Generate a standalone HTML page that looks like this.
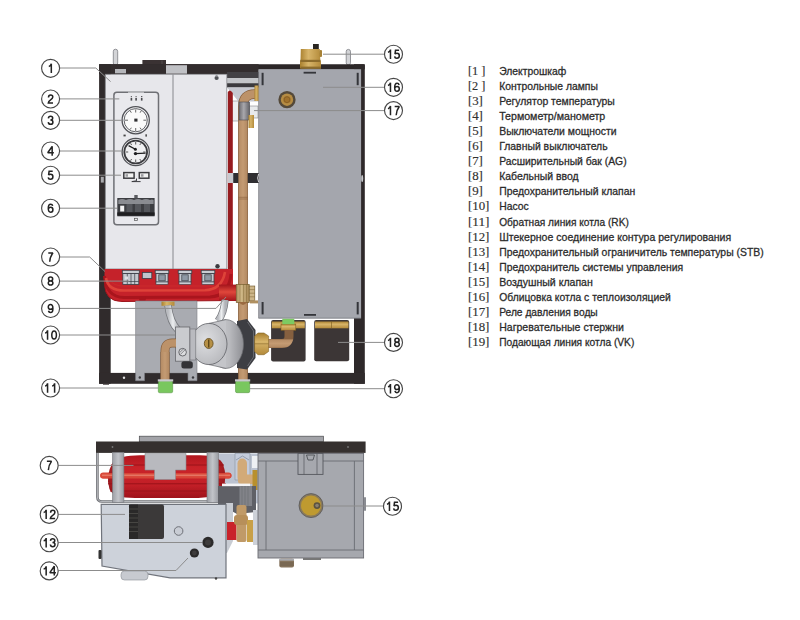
<!DOCTYPE html>
<html><head><meta charset="utf-8">
<style>
html,body{margin:0;padding:0;background:#fff;}
body{width:800px;height:620px;overflow:hidden;}
svg{display:block;}
.t{font-family:"Liberation Sans",sans-serif;font-size:11.4px;fill:#2b2b2b;stroke:#2b2b2b;stroke-width:0.3;}
.b{font-family:"Liberation Serif",serif;font-size:12.8px;fill:#303030;stroke:#303030;stroke-width:0.15;}
.n{font-family:"Liberation Sans",sans-serif;font-size:12.4px;fill:#262626;stroke:#262626;stroke-width:0.4;text-anchor:middle;}
.c{fill:#fff;stroke:#474747;stroke-width:1.15;}
.ld{fill:none;stroke:#8c8c8c;stroke-width:1;}
.dg{fill:none;stroke:#222;stroke-width:1.45;stroke-miterlimit:2;}
</style></head>
<body>
<svg width="800" height="620" viewBox="0 0 800 620">
<rect width="800" height="620" fill="#fff"/>

<!-- ================= FRONT VIEW ================= -->
<defs>
  <linearGradient id="cu" gradientUnits="userSpaceOnUse" x1="238.2" x2="247.8" y1="0" y2="0">
    <stop offset="0" stop-color="#86603f"/><stop offset="0.09" stop-color="#b68d66"/><stop offset="0.5" stop-color="#c49b73"/><stop offset="0.91" stop-color="#b38a63"/><stop offset="1" stop-color="#86603f"/>
  </linearGradient>
  <linearGradient id="cu11" gradientUnits="userSpaceOnUse" x1="160.5" x2="169.5" y1="0" y2="0">
    <stop offset="0" stop-color="#86603f"/><stop offset="0.09" stop-color="#b68d66"/><stop offset="0.5" stop-color="#c49b73"/><stop offset="0.91" stop-color="#b38a63"/><stop offset="1" stop-color="#86603f"/>
  </linearGradient>
  <linearGradient id="cuh" gradientUnits="userSpaceOnUse" x1="0" x2="0" y1="339" y2="348">
    <stop offset="0" stop-color="#86603f"/><stop offset="0.09" stop-color="#b68d66"/><stop offset="0.5" stop-color="#c49b73"/><stop offset="0.91" stop-color="#b38a63"/><stop offset="1" stop-color="#86603f"/>
  </linearGradient>
  <linearGradient id="brass" x1="0" x2="1" y1="0" y2="0">
    <stop offset="0" stop-color="#a9802e"/><stop offset="0.4" stop-color="#d8b56a"/><stop offset="1" stop-color="#b38a3a"/>
  </linearGradient>
  <linearGradient id="brassv" x1="0" x2="0" y1="0" y2="1">
    <stop offset="0" stop-color="#a9802e"/><stop offset="0.4" stop-color="#d8b56a"/><stop offset="1" stop-color="#b38a3a"/>
  </linearGradient>
  <linearGradient id="redstub" x1="0" x2="0" y1="0" y2="1">
    <stop offset="0" stop-color="#a3141b"/><stop offset="0.45" stop-color="#e0473b"/><stop offset="1" stop-color="#a3141b"/>
  </linearGradient>
  <linearGradient id="brass2" x1="0" x2="1" y1="0" y2="0">
    <stop offset="0" stop-color="#a98a58"/><stop offset="0.35" stop-color="#d2bb8a"/><stop offset="1" stop-color="#a88a5a"/>
  </linearGradient>
  <linearGradient id="pumpc" x1="0" x2="1" y1="0" y2="0">
    <stop offset="0" stop-color="#d6d7da"/><stop offset="0.6" stop-color="#b9babe"/><stop offset="1" stop-color="#8e8f94"/>
  </linearGradient>
  <radialGradient id="pumpf" cx="0.4" cy="0.4" r="0.7">
    <stop offset="0" stop-color="#dedfe2"/><stop offset="1" stop-color="#b6b7bb"/>
  </radialGradient>
  <linearGradient id="ring17" x1="0" x2="1" y1="0" y2="0">
    <stop offset="0" stop-color="#6c6b70"/><stop offset="0.45" stop-color="#a9a8ad"/><stop offset="1" stop-color="#626166"/>
  </linearGradient>
  <linearGradient id="hose" x1="0" x2="1" y1="0" y2="0">
    <stop offset="0" stop-color="#b9bbc0"/><stop offset="0.5" stop-color="#eceef0"/><stop offset="1" stop-color="#b0b2b7"/>
  </linearGradient>
</defs>
<g id="front">
  <!-- top pipes -->
  <rect x="113.3" y="49.2" width="4.4" height="16" rx="2.2" fill="#d3d4d7" stroke="#6f7075" stroke-width="0.7"/>
  <rect x="346.2" y="49.4" width="4.3" height="15.5" rx="2.1" fill="#d3d4d7" stroke="#6f7075" stroke-width="0.7"/>
  <!-- dark block on top -->
  <rect x="142.4" y="60" width="23.6" height="6" fill="#3a3233"/>
  <rect x="161.6" y="60.5" width="0.8" height="13" fill="#5a5455"/>
  <!-- frame -->
  <rect x="99.1" y="64.2" width="265.7" height="5.5" rx="1.5" fill="#2c2728"/>
  <rect x="99.1" y="64.2" width="159.5" height="9.9" fill="#332d2e"/>
  <rect x="99.1" y="64.2" width="11.6" height="319.6" fill="#302b2c"/>
  <rect x="354" y="64.2" width="10.8" height="319.6" fill="#2e292a"/>
  <rect x="99.1" y="372.9" width="265.7" height="10.9" fill="#302b2c"/>
  <rect x="103" y="383" width="6" height="1.7" fill="#3a3435"/>
  <rect x="100.8" y="176.8" width="3" height="5.8" fill="#a9a9ac"/>
  <rect x="115" y="69" width="11" height="4.3" fill="#b5b6ba"/>
  <rect x="166" y="65.2" width="21" height="8.5" fill="#c0c1c5"/>

  <!-- gap area between cabinet & tank -->
  <rect x="227" y="72" width="32" height="6" fill="#434145"/>
  <rect x="227" y="78" width="32" height="5.2" fill="#c3c5c9"/>
  <rect x="227" y="83.2" width="32" height="4.3" fill="#3b3a3e"/>
  <path d="M227 87.5 L258.6 87.5 L258.6 101.5 L238.5 101.5 Z" fill="#c6c8d0"/>
  <!-- little fittings between red strip and pipe -->
  <rect x="232" y="101" width="7" height="20" fill="#eceef0" stroke="#6f7076" stroke-width="0.5"/>
  <rect x="249" y="106" width="9" height="12" fill="#e8eaec" stroke="#6f7076" stroke-width="0.5"/>

  <!-- red strip right of cabinet -->
  <path d="M227.8 272 L227.8 92 Q230 88.5 232.8 93 L232.8 272 Z" fill="#961b1f"/>

  <!-- cabinet -->
  <rect x="105.3" y="74.3" width="121.5" height="194.7" fill="#e7e7eb" stroke="#85868b" stroke-width="0.8"/>
  <line x1="173" y1="74.3" x2="173" y2="269" stroke="#87888d" stroke-width="1"/>
  <circle cx="216.6" cy="78" r="2.1" fill="#505257"/>
  <rect x="215.6" y="74.3" width="2" height="2.2" fill="#9a9ba0"/>
  <circle cx="217.5" cy="266.2" r="2.2" fill="#3c3c40"/>

  <!-- control panel -->
  <rect x="113.9" y="92.2" width="44.6" height="132.6" rx="3" fill="#e9e9ed" stroke="#6f7075" stroke-width="1.5"/>
  <rect x="128" y="91.6" width="16" height="1.3" fill="#bfc0c4"/>
  <!-- lamps -->
  <g fill="#4a4a4e">
    <rect x="130.6" y="98" width="1.6" height="2.6"/><rect x="135.3" y="98" width="1.6" height="2.6"/><rect x="140.9" y="98" width="1.6" height="2.6"/>
    <rect x="130.8" y="96.2" width="1.2" height="1"/><rect x="135.5" y="96.2" width="1.2" height="1"/><rect x="141.1" y="96" width="1.2" height="1.2"/>
  </g>
  <!-- gauge 3 -->
  <circle cx="135.7" cy="120.2" r="13.6" fill="#f4f4f6" stroke="#505156" stroke-width="1.3"/>
  <circle cx="135.7" cy="120.2" r="11.6" fill="#fafafa" stroke="#606166" stroke-width="1"/>
  <g stroke="#555" stroke-width="0.9">
    <line x1="135.7" y1="109.5" x2="135.7" y2="112.5"/><line x1="135.7" y1="128" x2="135.7" y2="131"/>
    <line x1="125" y1="120.2" x2="128" y2="120.2"/><line x1="143.4" y1="120.2" x2="146.4" y2="120.2"/>
    <line x1="130.3" y1="111" x2="131.3" y2="112.7"/><line x1="141.1" y1="111" x2="140.1" y2="112.7"/>
    <line x1="130.3" y1="129.4" x2="131.3" y2="127.7"/><line x1="141.1" y1="129.4" x2="140.1" y2="127.7"/>
  </g>
  <rect x="134.3" y="118.6" width="3.2" height="3" fill="#2e2e30"/>
  <!-- gauge 4 -->
  <circle cx="135.7" cy="152" r="13.6" fill="#f4f4f6" stroke="#505156" stroke-width="1.3"/>
  <circle cx="135.7" cy="152" r="11.4" fill="#f0f0f2" stroke="#3a3a3e" stroke-width="1.8"/>
  <g stroke="#444" stroke-width="0.9">
    <line x1="135.7" y1="142" x2="135.7" y2="144.5"/><line x1="135.7" y1="159.5" x2="135.7" y2="162"/>
    <line x1="125.8" y1="152" x2="128.2" y2="152"/><line x1="143.2" y1="152" x2="145.6" y2="152"/>
    <line x1="130.6" y1="143.3" x2="131.6" y2="145"/><line x1="140.8" y1="143.3" x2="139.8" y2="145"/>
    <line x1="130.6" y1="160.7" x2="131.6" y2="159"/><line x1="140.8" y1="160.7" x2="139.8" y2="159"/>
  </g>
  <path d="M135.4 149.2 L128.6 145.6 M135.5 153.6 L145.6 153.1" stroke="#1e1e20" stroke-width="1.3"/>
  <circle cx="135.4" cy="149.2" r="1.5" fill="#1e1e20"/>
  <circle cx="135.5" cy="153.6" r="1.7" fill="#1e1e20"/>
  <rect x="123.5" y="134.6" width="2.2" height="1.8" fill="#444"/>
  <rect x="145.4" y="134.3" width="1.5" height="2.3" fill="#444"/>
  <!-- switches 5 -->
  <rect x="123.8" y="172.6" width="10.3" height="5.6" fill="#f2f2f2" stroke="#3c3c40" stroke-width="1.5"/>
  <rect x="139.3" y="172.6" width="9.6" height="5.6" fill="#f2f2f2" stroke="#3c3c40" stroke-width="1.5"/>
  <rect x="125.5" y="174.2" width="2.5" height="2.5" fill="#9a9a9e"/>
  <rect x="141" y="174.2" width="2.5" height="2.5" fill="#9a9a9e"/>
  <path d="M136.5 178.5 L136.5 180.8 L131.8 181.6 L140.6 181.6" stroke="#3c3c40" stroke-width="1" fill="none"/>
  <!-- breaker 6 -->
  <rect x="117.3" y="198" width="37.3" height="18.3" fill="#3d3e42"/>
  <path d="M118.3 204 L118.3 200 Q122 197.8 126 200 Q130 197.8 134 200 Q138 197.8 142 200 Q146 197.8 150 200 Q152 198.8 153.6 200 L153.6 204 Z" fill="#8a8c91"/>
  <g fill="#55575c"><rect x="126.5" y="204" width="6" height="8"/><rect x="135" y="204" width="6" height="8"/><rect x="144" y="204" width="6" height="8"/></g>
  <rect x="120.2" y="205.7" width="4" height="5.8" fill="#f3f3f3"/>
  <rect x="117.3" y="212.4" width="37.3" height="3.2" fill="#1f1f21"/>
  <rect x="134.3" y="195" width="3.4" height="3.4" fill="#5a5b60"/>
  <rect x="134.4" y="218.3" width="3.2" height="2.3" fill="none" stroke="#555" stroke-width="0.7"/>

  <!-- red header -->
  <path d="M104.5 269 L233 269 L233 300.5 L122 301.5 Q105 301.5 104.5 284 Z" fill="#c5222a"/>
  <path d="M104.5 276 Q106 297 124 297.5 L210 297 Q229 296 231 274" stroke="#a9151d" stroke-width="3" fill="none"/>
  <path d="M106 278 Q108 290.5 124 290.5 L205 290.3 Q222 289.5 225 272" stroke="#de4339" stroke-width="2.6" fill="none"/>
  <path d="M110 280 Q113 286 124 286 L214 286" stroke="#cc2a2c" stroke-width="1" fill="none"/>
  <path d="M104.5 284 Q105 301.5 122 301.5 L233 300.5" stroke="#9d141b" stroke-width="1" fill="none"/>
  <!-- header pipe to safety valve -->
  <rect x="219" y="284.6" width="17.5" height="16.4" fill="url(#redstub)"/>
  <!-- fittings on red header -->
  <rect x="122.3" y="270.3" width="17" height="3.3" fill="#c9cdd3" stroke="#3a3e46" stroke-width="0.8"/>
  <rect x="122.8" y="273.6" width="16" height="10.8" fill="#c3c8cf" stroke="#3a3e46" stroke-width="0.8"/>
  <path d="M127.3 273.6 L127.3 284.4 M131 273.6 L131 284.4 M134.7 273.6 L134.7 284.4 M122.8 281.5 L138.8 281.5" stroke="#3a3e46" stroke-width="0.7"/>
  <rect x="125" y="276.5" width="3" height="3" fill="#dcdfe4"/>
  <rect x="155.2" y="270.3" width="13.6" height="3.3" fill="#c9cdd3" stroke="#3a3e46" stroke-width="0.8"/>
  <rect x="156.0" y="273.6" width="12.0" height="8.4" fill="#c3c8cf" stroke="#3a3e46" stroke-width="0.8"/>
  <rect x="158.8" y="274.8" width="6.4" height="6" fill="#8e98a4" stroke="#3a3e46" stroke-width="0.7"/>
  <rect x="156.0" y="282" width="12.0" height="2.4" fill="#c9cdd3" stroke="#3a3e46" stroke-width="0.6"/>
  <rect x="178.2" y="270.3" width="13.6" height="3.3" fill="#c9cdd3" stroke="#3a3e46" stroke-width="0.8"/>
  <rect x="179.0" y="273.6" width="12.0" height="8.4" fill="#c3c8cf" stroke="#3a3e46" stroke-width="0.8"/>
  <rect x="181.8" y="274.8" width="6.4" height="6" fill="#8e98a4" stroke="#3a3e46" stroke-width="0.7"/>
  <rect x="179.0" y="282" width="12.0" height="2.4" fill="#c9cdd3" stroke="#3a3e46" stroke-width="0.6"/>
  <rect x="201.2" y="270.3" width="13.6" height="3.3" fill="#c9cdd3" stroke="#3a3e46" stroke-width="0.8"/>
  <rect x="202.0" y="273.6" width="12.0" height="8.4" fill="#c3c8cf" stroke="#3a3e46" stroke-width="0.8"/>
  <rect x="204.8" y="274.8" width="6.4" height="6" fill="#8e98a4" stroke="#3a3e46" stroke-width="0.7"/>
  <rect x="202.0" y="282" width="12.0" height="2.4" fill="#c9cdd3" stroke="#3a3e46" stroke-width="0.6"/>
  <rect x="142.3" y="272.4" width="9.5" height="6" fill="#c0c5cc" stroke="#3a3e46" stroke-width="0.8"/>
  <path d="M139 296 Q139 304 142 304 Q146 304 146 296 Z" fill="#a9151d"/>

  <!-- grey back plate -->
  <path d="M135.6 301 L197 301 L197 380.7 L188 380.7 L188 372.8 L144.5 372.8 L144.5 380.7 L135.6 380.7 Z" fill="#a9abb1" stroke="#808288" stroke-width="0.6"/>
  <circle cx="139.8" cy="377.5" r="1.2" fill="#3a3a3e"/>
  <circle cx="193" cy="377.5" r="1.2" fill="#3a3a3e"/>
  <line x1="135.6" y1="335" x2="197" y2="335" stroke="#9a9ca2" stroke-width="0.5"/>
  <rect x="161.5" y="301.6" width="13" height="4.2" fill="url(#brass)"/>

  <!-- tank -->
  <rect x="258.6" y="69.2" width="102.5" height="249" fill="#a4a6ad"/>
  <line x1="258.6" y1="69.2" x2="258.6" y2="318.2" stroke="#6c6e74" stroke-width="0.6"/>
  <line x1="258.6" y1="318.2" x2="361.1" y2="318.2" stroke="#74767c" stroke-width="0.8"/>
  <g fill="#34353a">
    <rect x="261.6" y="72.8" width="2" height="12.4"/><rect x="356.7" y="72.8" width="2" height="12.4"/>
    <rect x="261.6" y="302" width="2" height="12.4"/><rect x="356.7" y="302" width="2" height="12.4"/>
    <rect x="303.6" y="71.8" width="12.4" height="1.8"/><rect x="304" y="314" width="12" height="1.8"/>
  </g>
  <circle cx="287" cy="99.7" r="8.6" fill="#54493a"/>
  <circle cx="287" cy="99.7" r="6.2" fill="#b58c44"/>
  <circle cx="287" cy="99.7" r="3.6" fill="#a0712c"/>
  <path d="M287 96.6 L289.7 98.1 L289.7 101.2 L287 102.8 L284.3 101.2 L284.3 98.1 Z" fill="none" stroke="#7a5520" stroke-width="0.6"/>

  <!-- air vent 15 -->
  <path d="M300.8 49 L319.8 49 L320.3 60 L321 62 L321 68.6 L300 68.6 L300 62 L300.5 60 Z" fill="url(#brass)"/>
  <rect x="300.3" y="59.8" width="20.2" height="2.2" fill="#8d6c2c"/>
  <rect x="300.5" y="66.6" width="20.5" height="2" fill="#8d6c2c"/>
  <rect x="313" y="44" width="5.8" height="5" fill="#2a2622"/>
  <rect x="319.5" y="50" width="2.5" height="7" rx="1" fill="#a78236"/>

  <!-- copper vertical pipe (19) -->
  <path d="M243 380 L243 106 Q243 94 255 94" stroke="#86603f" stroke-width="9.6" fill="none"/>
  <path d="M243 380 L243 106 Q243 94 255 94" stroke="#bc9269" stroke-width="8" fill="none"/>
  <rect x="238.2" y="106" width="9.6" height="274" fill="url(#cu)"/>
  <rect x="254.5" y="85.5" width="4" height="15.5" fill="url(#brass)"/>
  <rect x="239" y="102" width="10.6" height="18" fill="url(#ring17)"/>
  <rect x="239" y="102" width="10.6" height="18" fill="none" stroke="#4d4c51" stroke-width="0.6"/>
  <rect x="248.5" y="115" width="5.5" height="13" fill="url(#brass)"/>
  <line x1="238.3" y1="197.3" x2="247.8" y2="197.3" stroke="#7d5535" stroke-width="0.5"/>
  <line x1="238.3" y1="199" x2="247.8" y2="199" stroke="#7d5535" stroke-width="0.5"/>
  <!-- bracket -->
  <rect x="228" y="173" width="5.2" height="10" fill="#c9cacf"/>
  <rect x="233.2" y="173" width="5" height="10" fill="#2f2e31"/>
  <rect x="247.8" y="173" width="10.8" height="10" fill="#2f2e31"/>
  <path d="M258.6 174 Q256.6 178 258.6 182" stroke="#cfd0d4" stroke-width="1" fill="none"/>
  <ellipse cx="362.2" cy="178.5" rx="1" ry="3.6" fill="#c6c7cb"/>
  <!-- safety valve fitting -->
  <rect x="236.2" y="284.3" width="13" height="18.3" fill="url(#brass2)" stroke="#6a5224" stroke-width="0.6"/>
  <path d="M240 284.3 L240 302.6 M243.6 284.3 L243.6 302.6 M246.6 284.3 L246.6 302.6" stroke="#7d6230" stroke-width="0.5"/>
  <rect x="249.2" y="286" width="5.6" height="14.4" fill="#cdb68a" stroke="#6a5224" stroke-width="0.6"/>
  <path d="M249.2 289.6 L254.8 289.6 M249.2 293.2 L254.8 293.2 M249.2 296.8 L254.8 296.8" stroke="#7d6230" stroke-width="0.5"/>
  <rect x="250" y="300.4" width="8" height="3" fill="#b09060"/>
  <path d="M239 302 Q243 308 247 302" fill="#9a6a40"/>

  <!-- heating elements 18 -->
  <rect x="271.1" y="320" width="34.5" height="41.5" rx="2" fill="#3c3636"/>
  <rect x="314.2" y="320" width="35" height="41.3" rx="2" fill="#3c3636"/>
  <rect x="271.8" y="321.5" width="33" height="6.8" fill="url(#brassv)"/>
  <rect x="315" y="321.5" width="33.5" height="6.8" fill="url(#brassv)"/>
  <line x1="331.5" y1="321.5" x2="331.5" y2="328.3" stroke="#7a5a20" stroke-width="0.6"/>
  <rect x="281" y="324" width="14.8" height="6.3" fill="url(#brassv)" stroke="#7a5a20" stroke-width="0.5"/>
  <rect x="282.3" y="318.8" width="12" height="5.4" fill="#7ccb62"/>

  <!-- silver hoses 9 -->
  <path d="M168 305.5 Q170 322 178 330" stroke="#75777c" stroke-width="7.4" fill="none"/>
  <path d="M168 305.5 Q170 322 178 330" stroke="url(#hose)" stroke-width="6" fill="none"/>
  <path d="M225 300 Q224 313 218 321" stroke="#75777c" stroke-width="7.4" fill="none"/>
  <path d="M225 300 Q224 313 218 321" stroke="url(#hose)" stroke-width="6" fill="none"/>

  <!-- pump -->
  <path d="M237 321 L247 319 L255.5 330 L255.5 358 L247 369.6 L237 368 Z" fill="#3d3e43"/>
  <path d="M247.5 322 L253.5 331 L253.5 357 L247.5 366" stroke="#85868b" stroke-width="0.6" fill="none"/>
  <ellipse cx="226" cy="344" rx="17.5" ry="24.4" fill="url(#pumpc)" stroke="#6a6b70" stroke-width="0.7"/>
  <path d="M209 323.4 L226 319.6 L226 368.4 L209 364.6 Z" fill="#c4c5c9"/>
  <path d="M209 323.4 L226 319.6 M209 364.6 L226 368.4" stroke="#6a6b70" stroke-width="0.7"/>
  <ellipse cx="209" cy="344" rx="18" ry="20.6" fill="url(#pumpf)" stroke="#5e5f64" stroke-width="0.8"/>
  <ellipse cx="208.7" cy="343.5" rx="4.4" ry="5" fill="#b69046" stroke="#5e4818" stroke-width="0.8"/>
  <rect x="208" y="339.5" width="1.4" height="8" fill="#5e4818"/>
  <rect x="189.8" y="329" width="6" height="31" fill="#b9babf" stroke="#6f7075" stroke-width="0.6"/>
  <rect x="175.4" y="327" width="14.4" height="34.2" fill="#cacbcf" stroke="#66676c" stroke-width="0.8"/>
  <circle cx="182.6" cy="352.2" r="3.8" fill="#dcdde0" stroke="#4d4e53" stroke-width="0.8"/>
  <path d="M180.3 354.5 L185 349.8 M179.6 352.6 L183.8 348.6" stroke="#4d4e53" stroke-width="0.6"/>
  <rect x="181.4" y="361.2" width="11.4" height="7.2" rx="2.5" fill="#333336"/>
  <!-- copper from pump to left bottom -->
  <path d="M176 343 L172 343 Q165 343 165 351 L165 380" stroke="#86603f" stroke-width="9" fill="none"/>
  <path d="M176 343 L172 343 Q165 343 165 351 L165 380" stroke="#bc9269" stroke-width="7.5" fill="none"/>
  <rect x="160.5" y="352" width="9" height="28" fill="url(#cu11)"/>
  <!-- copper from pump to heater -->
  <path d="M266 343.5 L282 343.5 Q289 343.5 289 336 L289 330" stroke="url(#cuh)" stroke-width="9" fill="none"/>
  <path d="M254.6 336 L258 333 L264 333 L268.6 336 L268.6 351.5 L264 354.7 L258 354.7 L254.6 351.5 Z" fill="url(#brassv)" stroke="#85662a" stroke-width="0.6"/>
  <line x1="254.6" y1="343.8" x2="268.6" y2="343.8" stroke="#85662a" stroke-width="0.6"/>

  <!-- green fittings -->
  <rect x="158.3" y="381" width="14.4" height="11.8" rx="1.5" fill="#79c75e" stroke="#4f8a3a" stroke-width="0.5"/>
  <rect x="235.5" y="381" width="14.2" height="11.7" rx="1.5" fill="#79c75e" stroke="#4f8a3a" stroke-width="0.5"/>
  <rect x="157.8" y="379.3" width="15.4" height="2.2" fill="#c9cacd"/>
  <rect x="235" y="379.3" width="15.2" height="2.2" fill="#c9cacd"/>
  <circle cx="124" cy="377.8" r="1.2" fill="#e0e0e0"/>
</g>

<!-- ================= TOP VIEW ================= -->
<defs>
  <linearGradient id="redt" x1="0" x2="0" y1="0" y2="1">
    <stop offset="0" stop-color="#b0161e"/><stop offset="0.3" stop-color="#c92329"/><stop offset="0.7" stop-color="#c21f27"/><stop offset="1" stop-color="#9e121a"/>
  </linearGradient>
  <linearGradient id="redends" x1="0" x2="1" y1="0" y2="0">
    <stop offset="0" stop-color="#000" stop-opacity="0.22"/><stop offset="0.12" stop-color="#000" stop-opacity="0"/><stop offset="0.88" stop-color="#000" stop-opacity="0"/><stop offset="1" stop-color="#000" stop-opacity="0.22"/>
  </linearGradient>
  <linearGradient id="brk" x1="0" x2="1" y1="0" y2="0">
    <stop offset="0" stop-color="#9c9ea4"/><stop offset="0.5" stop-color="#c2c4c9"/><stop offset="1" stop-color="#9a9ca2"/>
  </linearGradient>
</defs>
<g id="topview">
  <rect x="139.3" y="436.2" width="184.2" height="5.6" fill="#a2a3a8" stroke="#4a4a4e" stroke-width="0.7"/>
  <rect x="96" y="441.5" width="269.6" height="11.4" fill="#35302f"/>
  <circle cx="112.5" cy="447" r="0.9" fill="#777"/>
  <circle cx="348" cy="447" r="0.9" fill="#777"/>
  <!-- background behind -->
  <rect x="218" y="453.4" width="40" height="50" fill="#bcc3d1"/>
  <!-- wire frame -->
  <path d="M97.4 453 L97.4 497 Q97.4 501.5 102 501.5 L226 501.5" stroke="#6f7176" stroke-width="2.6" fill="none"/>
  <path d="M97.4 453 L97.4 497 Q97.4 501.5 102 501.5 L226 501.5" stroke="#b4b6ba" stroke-width="1" fill="none"/>
  <!-- red expansion tank -->
  <rect x="100.2" y="472.5" width="131.3" height="6" rx="3" fill="#d9493a"/>
  <path d="M113 462 Q119 455.2 140 455.2 L200 455.2 Q219 455.2 223 464 Q227.5 477 223 490 Q218 498 192 498 L135 498 Q113 498 109.5 489 Q105 476 113 462 Z" fill="url(#redt)"/>
  <path d="M113 462 Q119 455.2 140 455.2 L200 455.2 Q219 455.2 223 464 Q227.5 477 223 490 Q218 498 192 498 L135 498 Q113 498 109.5 489 Q105 476 113 462 Z" fill="url(#redends)"/>
  <path d="M111 465 L224 465 M108 483.8 L226 483.8 M110 491 L224 491" stroke="#9a1219" stroke-width="1" fill="none"/>
  <path d="M116 460 Q111 476 116 494 M214 459 Q220 476 214 495" stroke="#9a1219" stroke-width="0.9" fill="none"/>
  <rect x="100.2" y="473" width="131.3" height="5.5" rx="2.75" fill="#d9493a" opacity="0.9"/>
  <rect x="102" y="474.5" width="128" height="1.6" fill="#e8826e" opacity="0.8"/>
  <path d="M145 453.4 L186 453.4 L186 470 L175.5 470 L175.5 479.5 L154.5 479.5 L154.5 470 L145 470 Z" fill="#b8b9be" stroke="#8a8b90" stroke-width="0.6"/>
  <!-- brackets -->
  <rect x="112.5" y="452.4" width="11.4" height="50" fill="url(#brk)" stroke="#77797e" stroke-width="0.6"/>
  <rect x="207" y="452.4" width="11.4" height="50" fill="url(#brk)" stroke="#77797e" stroke-width="0.6"/>
  <!-- middle mechanics -->
  <path d="M235 453.4 L250 453.4 L250 480 L235 480 Z" fill="#c4ccdc" stroke="#8890a0" stroke-width="0.6"/>
  <path d="M236 460 L242.5 456 L249 460" stroke="#8890a0" stroke-width="0.8" fill="none"/>
  <rect x="237.5" y="458.5" width="9.5" height="24" rx="4.7" fill="#d2aa78"/>
  <rect x="238" y="474.5" width="18" height="9.5" rx="3" fill="#d2aa78"/>
  <rect x="252.5" y="470" width="5" height="20" fill="#b8902e"/>
  <rect x="252" y="456" width="6" height="12" fill="#eef0f3"/>
  <path d="M218 486 L256 486 L256 512 L237 514 L226 508 L218 504 Z" fill="#5f6066"/>
  <rect x="222" y="483.6" width="28" height="2.6" fill="#f4f4f6"/>
  <rect x="239.5" y="486" width="12.5" height="20" fill="#828389"/>
  <line x1="242" y1="486" x2="242" y2="506" stroke="#6a6b70" stroke-width="0.6"/><line x1="245" y1="486" x2="245" y2="506" stroke="#6a6b70" stroke-width="0.6"/><line x1="248" y1="486" x2="248" y2="506" stroke="#6a6b70" stroke-width="0.6"/>
  <rect x="226" y="503" width="7" height="50" fill="#c8ccd3"/>
  <path d="M227 553 L236 535 L236 553 Z" fill="#ffffff"/>
  <rect x="227" y="522" width="9.5" height="18" fill="#c9222a"/>
  <rect x="236.5" y="505" width="10" height="37" rx="2" fill="#c09a68"/>
  <rect x="234" y="515" width="14" height="10" rx="3" fill="#b78f5a"/>
  <rect x="247" y="520" width="6" height="22" fill="#c8a048"/>
  <rect x="253" y="510" width="5" height="35" fill="#cdd1d8"/>
  <!-- control box -->
  <path d="M101.2 504.4 L226 504.4 L226 577.8 L170 577.8 L102 566 Z" fill="#cdd2da" stroke="#70747c" stroke-width="1.2"/>
  <rect x="98.5" y="550" width="3" height="9" rx="1" fill="#333"/>
  <rect x="129" y="504.6" width="35" height="34.4" rx="2" fill="#3b3939"/>
  <g fill="#2a2929"><rect x="129" y="504.6" width="9" height="34.4"/></g>
  <g stroke="#55534f" stroke-width="0.7"><line x1="129" y1="509" x2="138" y2="509"/><line x1="129" y1="513.5" x2="138" y2="513.5"/><line x1="129" y1="518" x2="138" y2="518"/><line x1="129" y1="522.5" x2="138" y2="522.5"/><line x1="129" y1="527" x2="138" y2="527"/><line x1="129" y1="531.5" x2="138" y2="531.5"/></g>
  <circle cx="178.6" cy="531" r="4.3" fill="#c8ccd4" stroke="#6e7178" stroke-width="1"/>
  <circle cx="208" cy="542.4" r="5.6" fill="#2b2a2a"/>
  <circle cx="208" cy="542.4" r="3" fill="#3e3c3c"/>
  <circle cx="194.4" cy="553" r="4.6" fill="#2b2a2a"/>
  <circle cx="194.4" cy="553" r="2.4" fill="#3e3c3c"/>
  <rect x="121" y="571" width="27" height="9" rx="3.5" fill="#c7cad0" stroke="#8a8d93" stroke-width="0.6"/>
  <circle cx="216" cy="578.5" r="1.2" fill="#444"/>
  <!-- tank top view -->
  <rect x="258" y="453.4" width="105.6" height="104.6" fill="#a6a8ae" stroke="#6a6c72" stroke-width="0.9"/>
  <line x1="266" y1="461" x2="266" y2="550" stroke="#6a6c72" stroke-width="0.9"/>
  <line x1="354.4" y1="461" x2="354.4" y2="550" stroke="#6a6c72" stroke-width="0.9"/>
  <line x1="258" y1="461" x2="363.6" y2="461" stroke="#6a6c72" stroke-width="0.9"/>
  <line x1="258" y1="550" x2="363.6" y2="550" stroke="#6a6c72" stroke-width="0.9"/>
  <rect x="298" y="453.4" width="25" height="21" fill="#a6a8ae" stroke="#55575d" stroke-width="0.9"/>
  <line x1="304" y1="453.4" x2="304" y2="474.4" stroke="#55575d" stroke-width="0.7"/>
  <line x1="317" y1="453.4" x2="317" y2="474.4" stroke="#55575d" stroke-width="0.7"/>
  <path d="M306.5 455 L314.5 455 L313 460 L308 460 Z" fill="none" stroke="#45474d" stroke-width="0.8"/>
  <circle cx="311" cy="505.6" r="12" fill="#8a7a5a" stroke="#55575d" stroke-width="0.8"/>
  <circle cx="311" cy="505.6" r="10" fill="#bf9a30"/>
  <circle cx="317" cy="505.6" r="3.4" fill="#5a5240"/>
  <circle cx="317" cy="505.6" r="1.8" fill="#8a8070"/>
  <rect x="364" y="497" width="2" height="14" rx="1" fill="#8a8c92"/>
  <rect x="279.3" y="558.5" width="14.7" height="9" rx="2" fill="#85735c"/>
  <rect x="279.3" y="558.5" width="14.7" height="2.2" fill="#a9aaae"/>
  <line x1="280" y1="563" x2="293.5" y2="563" stroke="#5e5142" stroke-width="0.6"/><line x1="280" y1="565" x2="293.5" y2="565" stroke="#5e5142" stroke-width="0.6"/>
  <rect x="303" y="558" width="18" height="2" fill="#777"/>
</g>

<!-- ================= CALLOUT CIRCLES & LEADERS ================= -->
<g class="ld">
  <polyline points="59.5,68 95.8,68 110.6,81.6"/>
  <line x1="59.5" y1="98.9" x2="119.3" y2="98.9"/>
  <line x1="59.5" y1="120.3" x2="121.5" y2="120.3"/>
  <line x1="59.5" y1="151" x2="121.5" y2="151"/>
  <line x1="59.5" y1="175.2" x2="121" y2="175.2"/>
  <line x1="59.5" y1="208.2" x2="117" y2="208.2"/>
  <polyline points="59.5,257 89.7,257 105,271.5"/>
  <line x1="59.5" y1="281.1" x2="129" y2="281.1"/>
  <polyline points="59.5,308.4 216,308.4 226,297"/>
  <line x1="59.5" y1="335" x2="175" y2="335"/>
  <line x1="59.5" y1="388" x2="158" y2="388"/>
  <line x1="323" y1="54.2" x2="384.8" y2="54.2"/>
  <line x1="323" y1="87.3" x2="384.8" y2="87.3"/>
  <line x1="254" y1="110.6" x2="384.8" y2="110.6"/>
  <line x1="338" y1="342.4" x2="384.8" y2="342.4"/>
  <line x1="250" y1="388.7" x2="384.8" y2="388.7"/>
  <line x1="58.5" y1="465.4" x2="133.5" y2="465.4"/>
  <line x1="58.5" y1="514.4" x2="125" y2="514.4"/>
  <line x1="58.5" y1="542.5" x2="202" y2="542.5"/>
  <polyline points="58.5,570.5 176,570.5 188,558"/>
  <line x1="323" y1="506" x2="383.8" y2="506"/>
</g>
<defs>
  <path id="g0" d="M2.8 0.6 C1.4 0.6 0.6 2 0.6 4.5 C0.6 7 1.4 8.4 2.8 8.4 C4.2 8.4 5 7 5 4.5 C5 2 4.2 0.6 2.8 0.6 Z"/>
  <path id="g1" d="M0.9 2.7 C2.1 2.5 3 1.8 3.3 0 L3.3 9.1"/>
  <path id="g2" d="M0.8 3 C0.8 1.5 1.6 0.6 2.9 0.6 C4.1 0.6 4.9 1.4 4.9 2.6 C4.9 3.9 4 4.6 2.8 5.4 C1.5 6.2 0.7 7.1 0.6 8.4 L5.1 8.4"/>
  <path id="g3" d="M0.7 2.7 C0.8 1.4 1.6 0.6 2.8 0.6 C4 0.6 4.8 1.3 4.8 2.4 C4.8 3.6 4 4.3 2.6 4.3 C4.1 4.3 5 5.1 5 6.3 C5 7.6 4.1 8.4 2.8 8.4 C1.5 8.4 0.7 7.7 0.6 6.3"/>
  <path id="g4" d="M4.3 9.1 L4.3 0 L0.1 6.2 L5.9 6.2"/>
  <path id="g5" d="M4.8 0.6 L1.4 0.6 L0.9 4.4 C1.4 3.8 2.1 3.5 2.8 3.5 C4.2 3.5 5 4.5 5 5.9 C5 7.4 4.1 8.4 2.7 8.4 C1.5 8.4 0.7 7.7 0.6 6.6"/>
  <path id="g6" d="M4.8 2.3 C4.6 1.2 3.9 0.6 2.9 0.6 C1.4 0.6 0.6 2 0.6 4.6 C0.6 7.1 1.4 8.4 2.9 8.4 C4.2 8.4 5 7.4 5 6 C5 4.6 4.2 3.7 2.9 3.7 C1.8 3.7 1 4.3 0.7 5.3"/>
  <path id="g7" d="M0.6 0.6 L5 0.6 C3.3 2.8 2.2 5.3 2 9.1"/>
  <path id="g8" d="M2.8 4.3 C1.6 4.3 0.8 3.6 0.8 2.5 C0.8 1.3 1.6 0.6 2.8 0.6 C4 0.6 4.8 1.3 4.8 2.5 C4.8 3.6 4 4.3 2.8 4.3 C1.4 4.3 0.6 5.1 0.6 6.4 C0.6 7.7 1.5 8.4 2.8 8.4 C4.1 8.4 5 7.7 5 6.4 C5 5.1 4.2 4.3 2.8 4.3 Z"/>
  <path id="g9" d="M0.8 6.7 C1 7.8 1.7 8.4 2.7 8.4 C4.2 8.4 5 7 5 4.4 C5 1.9 4.2 0.6 2.7 0.6 C1.4 0.6 0.6 1.6 0.6 3 C0.6 4.4 1.4 5.3 2.7 5.3 C3.8 5.3 4.6 4.7 4.9 3.7"/>
</defs>
<g>
  <circle class="c" cx="50.6" cy="68.3" r="9"/>
  <use href="#g1" class="dg" transform="translate(47.85 63.65) scale(1.05 1.03)"/>
  <circle class="c" cx="50.6" cy="99.0" r="9"/>
  <use href="#g2" class="dg" transform="translate(47.65 94.35) scale(1.05 1.03)"/>
  <circle class="c" cx="50.6" cy="120.3" r="9"/>
  <use href="#g3" class="dg" transform="translate(47.65 115.65) scale(1.05 1.03)"/>
  <circle class="c" cx="50.6" cy="151.0" r="9"/>
  <use href="#g4" class="dg" transform="translate(47.65 146.35) scale(1.05 1.03)"/>
  <circle class="c" cx="50.6" cy="175.2" r="9"/>
  <use href="#g5" class="dg" transform="translate(47.65 170.55) scale(1.05 1.03)"/>
  <circle class="c" cx="50.6" cy="208.2" r="9"/>
  <use href="#g6" class="dg" transform="translate(47.65 203.55) scale(1.05 1.03)"/>
  <circle class="c" cx="50.6" cy="257.0" r="9"/>
  <use href="#g7" class="dg" transform="translate(47.65 252.35) scale(1.05 1.03)"/>
  <circle class="c" cx="50.6" cy="281.1" r="9"/>
  <use href="#g8" class="dg" transform="translate(47.65 276.45) scale(1.05 1.03)"/>
  <circle class="c" cx="50.6" cy="308.5" r="9"/>
  <use href="#g9" class="dg" transform="translate(47.65 303.85) scale(1.05 1.03)"/>
  <circle class="c" cx="50.6" cy="335.0" r="9"/>
  <use href="#g1" class="dg" transform="translate(44.10 330.35) scale(1.05 1.03)"/>
  <use href="#g0" class="dg" transform="translate(51.15 330.35) scale(1.05 1.03)"/>
  <circle class="c" cx="50.6" cy="388.0" r="9"/>
  <use href="#g1" class="dg" transform="translate(44.10 383.35) scale(1.05 1.03)"/>
  <use href="#g1" class="dg" transform="translate(51.15 383.35) scale(1.05 1.03)"/>
  <circle class="c" cx="393.5" cy="54.2" r="9"/>
  <use href="#g1" class="dg" transform="translate(387.00 49.55) scale(1.05 1.03)"/>
  <use href="#g5" class="dg" transform="translate(394.05 49.55) scale(1.05 1.03)"/>
  <circle class="c" cx="393.5" cy="87.3" r="9"/>
  <use href="#g1" class="dg" transform="translate(387.00 82.65) scale(1.05 1.03)"/>
  <use href="#g6" class="dg" transform="translate(394.05 82.65) scale(1.05 1.03)"/>
  <circle class="c" cx="393.5" cy="110.6" r="9"/>
  <use href="#g1" class="dg" transform="translate(387.00 105.95) scale(1.05 1.03)"/>
  <use href="#g7" class="dg" transform="translate(394.05 105.95) scale(1.05 1.03)"/>
  <circle class="c" cx="393.5" cy="342.4" r="9"/>
  <use href="#g1" class="dg" transform="translate(387.00 337.75) scale(1.05 1.03)"/>
  <use href="#g8" class="dg" transform="translate(394.05 337.75) scale(1.05 1.03)"/>
  <circle class="c" cx="393.5" cy="388.7" r="9"/>
  <use href="#g1" class="dg" transform="translate(387.00 384.05) scale(1.05 1.03)"/>
  <use href="#g9" class="dg" transform="translate(394.05 384.05) scale(1.05 1.03)"/>
  <circle class="c" cx="49.2" cy="465.4" r="9"/>
  <use href="#g7" class="dg" transform="translate(46.25 460.75) scale(1.05 1.03)"/>
  <circle class="c" cx="49.2" cy="514.4" r="9"/>
  <use href="#g1" class="dg" transform="translate(42.70 509.75) scale(1.05 1.03)"/>
  <use href="#g2" class="dg" transform="translate(49.75 509.75) scale(1.05 1.03)"/>
  <circle class="c" cx="49.2" cy="542.7" r="9"/>
  <use href="#g1" class="dg" transform="translate(42.70 538.05) scale(1.05 1.03)"/>
  <use href="#g3" class="dg" transform="translate(49.75 538.05) scale(1.05 1.03)"/>
  <circle class="c" cx="49.2" cy="570.9" r="9"/>
  <use href="#g1" class="dg" transform="translate(42.70 566.25) scale(1.05 1.03)"/>
  <use href="#g4" class="dg" transform="translate(49.75 566.25) scale(1.05 1.03)"/>
  <circle class="c" cx="392.5" cy="506.2" r="9"/>
  <use href="#g1" class="dg" transform="translate(386.00 501.55) scale(1.05 1.03)"/>
  <use href="#g5" class="dg" transform="translate(393.05 501.55) scale(1.05 1.03)"/>
</g>

<!-- ================= LEGEND ================= -->
<g class="t">
  <text class="b" x="467.9" y="74.75" textLength="17.5" lengthAdjust="spacingAndGlyphs">[1 ]</text><text x="499.2" y="74.75" textLength="67.0" lengthAdjust="spacingAndGlyphs">Электрошкаф</text>
  <text class="b" x="467.9" y="89.83" textLength="17.5" lengthAdjust="spacingAndGlyphs">[2 ]</text><text x="499.2" y="89.83" textLength="98.7" lengthAdjust="spacingAndGlyphs">Контрольные лампы</text>
  <text class="b" x="467.9" y="104.91" textLength="15.0" lengthAdjust="spacingAndGlyphs">[3]</text><text x="499.2" y="104.91" textLength="115.6" lengthAdjust="spacingAndGlyphs">Регулятор температуры</text>
  <text class="b" x="467.9" y="119.99" textLength="15.0" lengthAdjust="spacingAndGlyphs">[4]</text><text x="499.2" y="119.99" textLength="106.1" lengthAdjust="spacingAndGlyphs">Термометр/манометр</text>
  <text class="b" x="467.9" y="135.07" textLength="15.0" lengthAdjust="spacingAndGlyphs">[5]</text><text x="499.2" y="135.07" textLength="117.4" lengthAdjust="spacingAndGlyphs">Выключатели мощности</text>
  <text class="b" x="467.9" y="150.15" textLength="15.0" lengthAdjust="spacingAndGlyphs">[6]</text><text x="499.2" y="150.15" textLength="108.4" lengthAdjust="spacingAndGlyphs">Главный выключатель</text>
  <text class="b" x="467.9" y="165.23" textLength="15.0" lengthAdjust="spacingAndGlyphs">[7]</text><text x="499.2" y="165.23" textLength="127.4" lengthAdjust="spacingAndGlyphs">Расширительный бак (AG)</text>
  <text class="b" x="467.9" y="180.31" textLength="15.0" lengthAdjust="spacingAndGlyphs">[8]</text><text x="499.2" y="180.31" textLength="79.4" lengthAdjust="spacingAndGlyphs">Кабельный ввод</text>
  <text class="b" x="467.9" y="195.39" textLength="15.0" lengthAdjust="spacingAndGlyphs">[9]</text><text x="499.2" y="195.39" textLength="136.0" lengthAdjust="spacingAndGlyphs">Предохранительный клапан</text>
  <text class="b" x="467.9" y="210.47" textLength="21.5" lengthAdjust="spacingAndGlyphs">[10]</text><text x="499.2" y="210.47" textLength="29.5" lengthAdjust="spacingAndGlyphs">Насос</text>
  <text class="b" x="467.9" y="225.55" textLength="21.5" lengthAdjust="spacingAndGlyphs">[11]</text><text x="499.2" y="225.55" textLength="129.6" lengthAdjust="spacingAndGlyphs">Обратная линия котла (RK)</text>
  <text class="b" x="467.9" y="240.63" textLength="21.5" lengthAdjust="spacingAndGlyphs">[12]</text><text x="499.2" y="240.63" textLength="232.0" lengthAdjust="spacingAndGlyphs">Штекерное соединение контура регулирования</text>
  <text class="b" x="467.9" y="255.71" textLength="21.5" lengthAdjust="spacingAndGlyphs">[13]</text><text x="499.2" y="255.71" textLength="264.5" lengthAdjust="spacingAndGlyphs">Предохранительный ограничитель температуры (STB)</text>
  <text class="b" x="467.9" y="270.79" textLength="21.5" lengthAdjust="spacingAndGlyphs">[14]</text><text x="499.2" y="270.79" textLength="183.9" lengthAdjust="spacingAndGlyphs">Предохранитель системы управления</text>
  <text class="b" x="467.9" y="285.87" textLength="21.5" lengthAdjust="spacingAndGlyphs">[15]</text><text x="499.2" y="285.87" textLength="93.6" lengthAdjust="spacingAndGlyphs">Воздушный клапан</text>
  <text class="b" x="467.9" y="300.95" textLength="21.5" lengthAdjust="spacingAndGlyphs">[16]</text><text x="499.2" y="300.95" textLength="171.5" lengthAdjust="spacingAndGlyphs">Облицовка котла с теплоизоляцией</text>
  <text class="b" x="467.9" y="316.03" textLength="21.5" lengthAdjust="spacingAndGlyphs">[17]</text><text x="499.2" y="316.03" textLength="98.5" lengthAdjust="spacingAndGlyphs">Реле давления воды</text>
  <text class="b" x="467.9" y="331.11" textLength="21.5" lengthAdjust="spacingAndGlyphs">[18]</text><text x="499.2" y="331.11" textLength="124.7" lengthAdjust="spacingAndGlyphs">Нагревательные стержни</text>
  <text class="b" x="467.9" y="346.19" textLength="21.5" lengthAdjust="spacingAndGlyphs">[19]</text><text x="499.2" y="346.19" textLength="135.1" lengthAdjust="spacingAndGlyphs">Подающая линия котла (VK)</text>
</g>
</svg>
</body></html>
